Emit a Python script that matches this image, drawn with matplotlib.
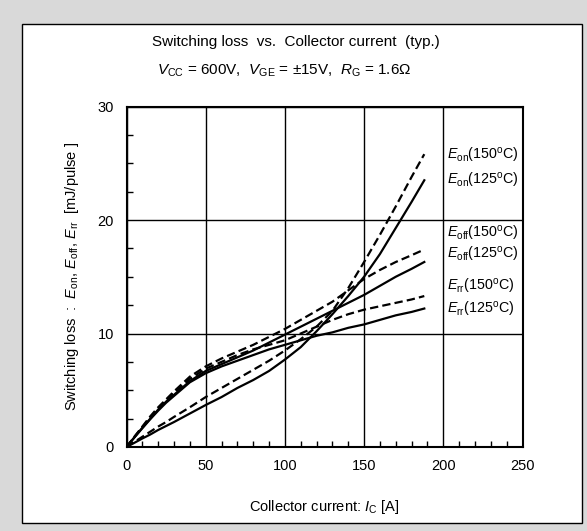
import numpy as np
import matplotlib.pyplot as plt
from matplotlib.patches import Rectangle

plt.rcParams['font.family'] = ['Liberation Sans', 'DejaVu Sans']
plt.rcParams['mathtext.fontset'] = 'custom'
plt.rcParams['mathtext.rm'] = 'Liberation Sans'
plt.rcParams['mathtext.it'] = 'Liberation Sans:italic'
plt.rcParams['lines.scale_dashes'] = False

# Collector current [A]
ic = [0, 5, 10, 15, 20, 25, 30, 40, 50, 60, 70, 80, 90, 100,
      110, 120, 130, 140, 150, 160, 170, 180, 188]

# Switching losses [mJ/pulse]
eon_150 = [0, 0.45, 0.9, 1.35, 1.8, 2.2, 2.65, 3.5, 4.4, 5.2, 6.0, 6.8, 7.6, 8.5,
           9.5, 10.6, 12.0, 14.0, 16.3, 18.7, 21.2, 23.8, 25.8]
eon_125 = [0, 0.37, 0.75, 1.1, 1.5, 1.85, 2.2, 2.95, 3.7, 4.4, 5.2, 5.9, 6.7, 7.7,
           8.8, 10.2, 11.7, 13.3, 15.0, 17.0, 19.3, 21.6, 23.5]
eoff_150 = [0, 0.9, 1.8, 2.7, 3.5, 4.2, 4.9, 6.2, 7.1, 7.8, 8.4, 9.0, 9.7, 10.4,
            11.2, 12.0, 12.8, 13.8, 14.8, 15.6, 16.3, 16.9, 17.4]
eoff_125 = [0, 0.85, 1.7, 2.5, 3.3, 4.0, 4.6, 5.8, 6.7, 7.3, 7.9, 8.5, 9.2, 9.9,
            10.6, 11.3, 12.0, 12.7, 13.4, 14.2, 15.0, 15.7, 16.3]
err_150 = [0, 0.9, 1.75, 2.6, 3.4, 4.1, 4.75, 6.0, 6.9, 7.5, 8.1, 8.6, 9.0, 9.4,
           10.0, 10.6, 11.2, 11.7, 12.1, 12.4, 12.7, 13.0, 13.3]
err_125 = [0, 0.85, 1.65, 2.45, 3.2, 3.9, 4.5, 5.7, 6.5, 7.1, 7.6, 8.1, 8.6, 9.0,
           9.4, 9.8, 10.1, 10.5, 10.8, 11.2, 11.6, 11.9, 12.2]

labels = [r'$E_{\mathrm{on}}$(150$^{\mathrm{o}}$C)', r'$E_{\mathrm{on}}$(125$^{\mathrm{o}}$C)',
          r'$E_{\mathrm{off}}$(150$^{\mathrm{o}}$C)', r'$E_{\mathrm{off}}$(125$^{\mathrm{o}}$C)',
          r'$E_{\mathrm{rr}}$(150$^{\mathrm{o}}$C)', r'$E_{\mathrm{rr}}$(125$^{\mathrm{o}}$C)']
label_y = [25.7, 23.5, 18.8, 17.0, 14.1, 12.1]

W, H = 587, 531
fig = plt.figure(figsize=(W / 100, H / 100), dpi=100)
fig.patch.set_facecolor('#d9d9d9')
fig.patches.append(Rectangle((22 / W, (H - 523) / H), 560 / W, 499 / H,
                             transform=fig.transFigure, facecolor='white',
                             edgecolor='black', linewidth=1, zorder=-5))

ax = fig.add_axes([126.5 / W, (H - 447) / H, 396 / W, 340.5 / H])
ax.set_xlim(0, 250)
ax.set_ylim(0, 30)
ax.set_facecolor('white')

dash = (0, (6, 3))
ax.plot(ic, eon_150, color='black', lw=1.6, linestyle=dash)
ax.plot(ic, eon_125, color='black', lw=1.6)
ax.plot(ic, eoff_150, color='black', lw=1.6, linestyle=dash)
ax.plot(ic, eoff_125, color='black', lw=1.6)
ax.plot(ic, err_150, color='black', lw=1.6, linestyle=dash)
ax.plot(ic, err_125, color='black', lw=1.6)

for lab, yy in zip(labels, label_y):
    ax.text(202.5, yy, lab, fontsize=10.3, va='center', ha='left')

ax.set_xticks(np.arange(0, 251, 50))
ax.set_yticks(np.arange(0, 31, 10))
ax.set_xticks(np.arange(0, 251, 10), minor=True)
ax.set_yticks(np.arange(0, 31, 2.5), minor=True)
ax.tick_params(which='both', direction='in', top=False, right=False, labelsize=10.5)
ax.tick_params(which='major', length=0, pad=9)
ax.tick_params(which='minor', length=4, width=1)
ax.grid(True, which='major', color='black', lw=1)
for s in ax.spines.values():
    s.set_linewidth(1.5)

ax.set_xlabel(r'Collector current: $I_{\mathrm{C}}$ [A]', fontsize=10.5, labelpad=18)
ax.set_ylabel(r'Switching loss  :  $E_{\mathrm{on}}$, $E_{\mathrm{off}}$, $E_{\mathrm{rr}}$  [mJ/pulse ]',
              fontsize=10.5, labelpad=12)

fig.text(296 / W, 1 - 42 / H, 'Switching loss  vs.  Collector current  (typ.)',
         fontsize=11, ha='center', va='center')
fig.text(284 / W, 1 - 71 / H,
         r'$V_{\mathrm{CC}}$ = 600V,  $V_{\mathrm{GE}}$ = ±15V,  $R_{\mathrm{G}}$ = 1.6Ω',
         fontsize=11, ha='center', va='center')

fig.savefig('out.png', dpi=100, facecolor=fig.get_facecolor())
